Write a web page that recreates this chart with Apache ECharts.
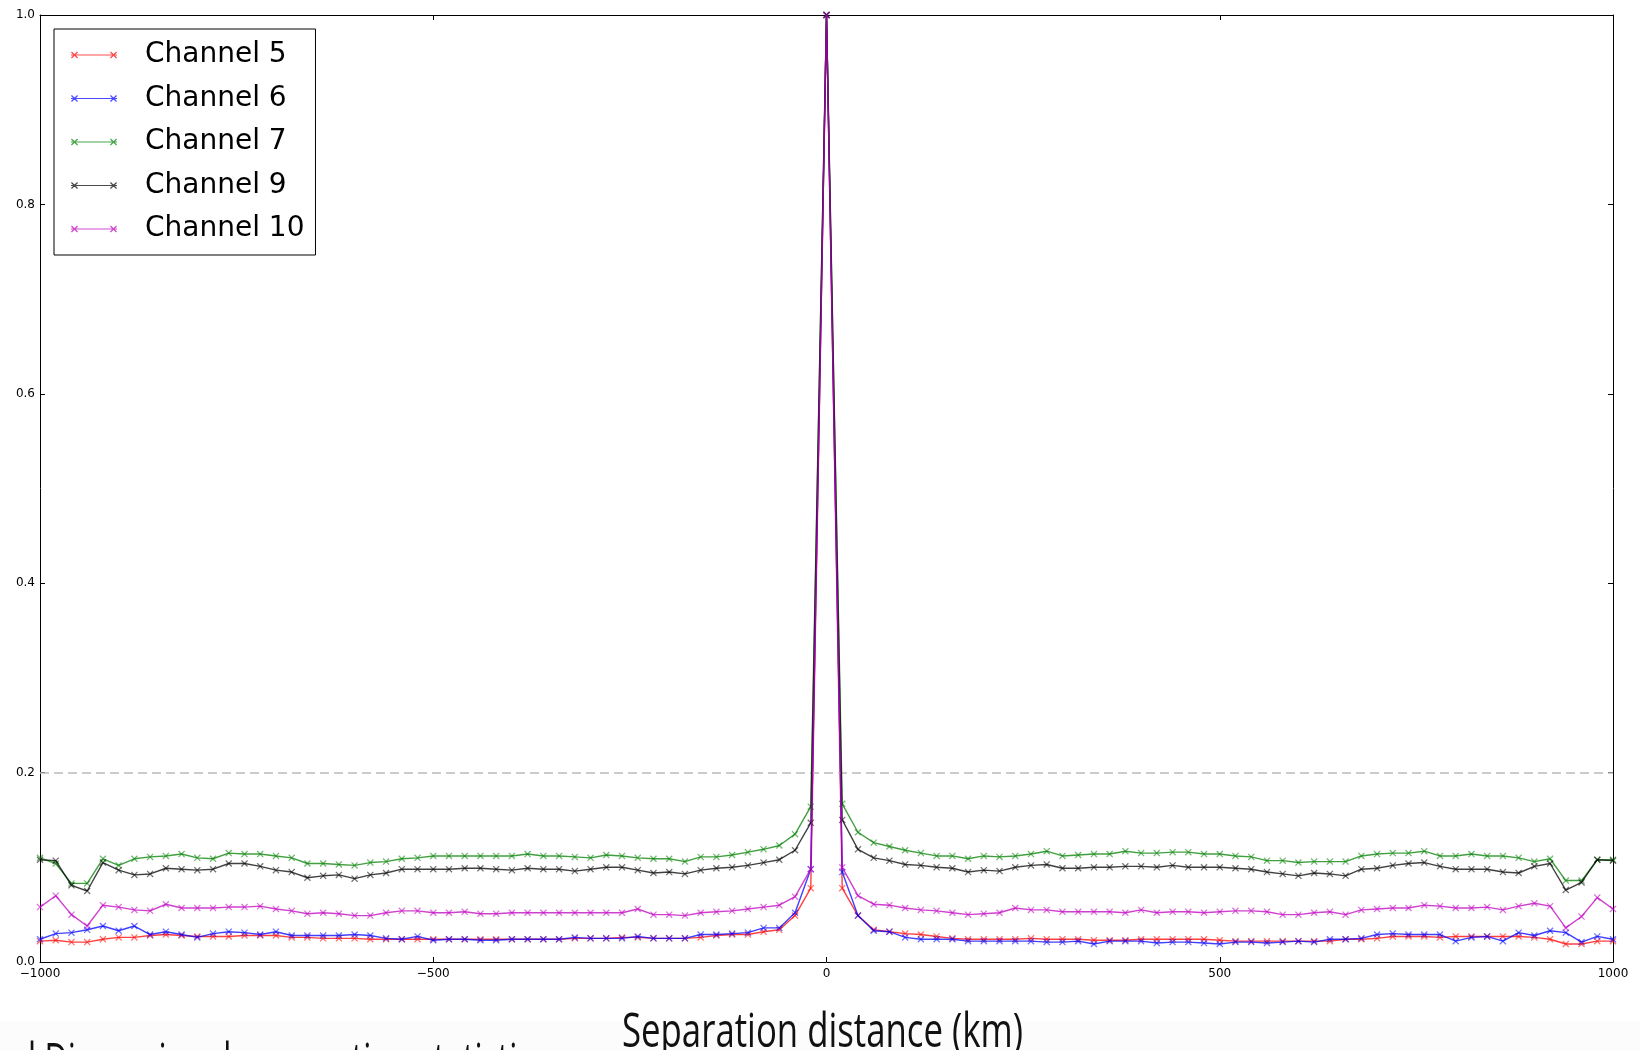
<!DOCTYPE html>
<html><head><meta charset="utf-8">
<script src="https://cdn.jsdelivr.net/npm/echarts@6/dist/echarts.min.js"></script>
<style>html,body{margin:0;padding:0;background:#fff}#c{width:1640px;height:1050px}</style>
</head><body><div id="c"></div>
<script>
// ---- data ----
const distances = [-1000,-980,-960,-940,-920,-900,-880,-860,-840,-820,-800,-780,-760,-740,-720,-700,-680,-660,-640,-620,-600,-580,-560,-540,-520,-500,-480,-460,-440,-420,-400,-380,-360,-340,-320,-300,-280,-260,-240,-220,-200,-180,-160,-140,-120,-100,-80,-60,-40,-20,0,20,40,60,80,100,120,140,160,180,200,220,240,260,280,300,320,340,360,380,400,420,440,460,480,500,520,540,560,580,600,620,640,660,680,700,720,740,760,780,800,820,840,860,880,900,920,940,960,980,1000];

const channel5 = [0.022,0.023,0.021,0.021,0.024,0.026,0.026,0.028,0.029,0.028,0.027,0.027,0.027,0.028,0.028,0.028,0.026,0.026,0.025,0.025,0.025,0.024,0.024,0.024,0.024,0.024,0.024,
0.024,0.024,0.024,0.024,0.024,0.024,0.024,0.025,0.025,0.025,0.026,0.026,0.025,0.025,0.025,0.026,0.028,0.029,0.029,0.032,0.034,0.049,0.078,
1.0,
0.078,0.049,0.034,0.032,0.030,0.029,0.027,0.025,0.024,0.024,0.024,0.024,0.025,0.024,0.024,0.024,0.023,0.023,0.023,0.024,0.024,0.024,0.024,0.024,0.023,
0.022,0.022,0.022,0.022,0.022,0.022,0.022,0.024,0.024,0.025,0.027,0.027,0.027,0.026,0.027,0.027,0.027,0.027,0.027,0.026,0.024,0.019,0.019,0.022,0.022];

const channel6 = [0.024,0.030,0.031,0.034,0.038,0.033,0.038,0.029,0.032,0.029,0.026,0.030,0.032,0.031,0.029,0.032,0.028,0.028,0.028,0.028,0.029,0.028,0.025,0.024,0.027,0.023,0.024,
0.024,0.023,0.023,0.024,0.024,0.024,0.024,0.026,0.025,0.025,0.025,0.027,0.025,0.025,0.025,0.029,0.029,0.030,0.031,0.036,0.036,0.052,0.098,
1.0,
0.095,0.049,0.033,0.032,0.026,0.024,0.024,0.024,0.022,0.022,0.022,0.022,0.022,0.021,0.021,0.022,0.019,0.022,0.022,0.022,0.020,0.021,0.021,0.020,0.019,
0.021,0.021,0.020,0.021,0.022,0.021,0.024,0.024,0.025,0.029,0.030,0.029,0.029,0.029,0.022,0.026,0.027,0.022,0.031,0.028,0.033,0.031,0.021,0.027,0.024];

const channel7 = [0.110,0.104,0.083,0.083,0.109,0.102,0.109,0.111,0.112,0.114,0.110,0.109,0.115,0.114,0.114,0.112,0.110,0.104,0.104,0.103,0.102,0.105,0.106,0.109,0.110,0.112,0.112,
0.112,0.112,0.112,0.112,0.114,0.112,0.112,0.111,0.110,0.113,0.112,0.110,0.109,0.109,0.106,0.111,0.111,0.113,0.116,0.119,0.123,0.135,0.164,
1.0,
0.167,0.137,0.126,0.122,0.118,0.115,0.112,0.112,0.109,0.112,0.111,0.112,0.114,0.117,0.112,0.113,0.114,0.114,0.117,0.115,0.115,0.116,0.116,0.114,0.114,
0.112,0.111,0.107,0.107,0.105,0.106,0.106,0.106,0.112,0.114,0.115,0.115,0.117,0.112,0.112,0.114,0.112,0.112,0.110,0.106,0.109,0.086,0.086,0.108,0.108];

const channel9 = [0.108,0.107,0.081,0.075,0.105,0.097,0.092,0.093,0.099,0.098,0.097,0.098,0.104,0.104,0.101,0.097,0.095,0.089,0.091,0.092,0.088,0.092,0.094,0.098,0.098,0.098,0.098,
0.099,0.099,0.098,0.097,0.099,0.098,0.098,0.096,0.098,0.100,0.100,0.097,0.094,0.095,0.093,0.097,0.099,0.100,0.102,0.105,0.108,0.118,0.147,
1.0,
0.150,0.119,0.110,0.107,0.103,0.102,0.100,0.099,0.095,0.097,0.096,0.100,0.102,0.103,0.099,0.099,0.100,0.100,0.101,0.101,0.100,0.102,0.100,0.100,0.100,
0.099,0.098,0.095,0.093,0.091,0.094,0.093,0.091,0.098,0.099,0.102,0.104,0.105,0.101,0.098,0.098,0.098,0.095,0.094,0.101,0.104,0.076,0.084,0.108,0.107];

const channel10 = [0.058,0.070,0.050,0.038,0.060,0.058,0.055,0.054,0.061,0.057,0.057,0.057,0.058,0.058,0.059,0.056,0.054,0.051,0.052,0.051,0.049,0.049,0.052,0.054,0.054,0.052,0.052,
0.053,0.051,0.051,0.052,0.052,0.052,0.052,0.052,0.052,0.052,0.052,0.056,0.050,0.050,0.049,0.052,0.053,0.054,0.056,0.058,0.060,0.069,0.098,
1.0,
0.100,0.070,0.061,0.060,0.057,0.055,0.054,0.052,0.050,0.051,0.052,0.057,0.055,0.055,0.053,0.053,0.053,0.053,0.052,0.055,0.052,0.053,0.053,0.052,0.053,
0.054,0.054,0.053,0.050,0.050,0.052,0.053,0.050,0.055,0.056,0.057,0.057,0.060,0.059,0.057,0.057,0.058,0.055,0.059,0.062,0.059,0.036,0.048,0.068,0.056];

const seriesNames = ['Channel 5','Channel 6','Channel 7','Channel 9','Channel 10'];
const seriesValues = [channel5, channel6, channel7, channel9, channel10];
const seriesColors = ['#ff0000','#0000ff','#008000','#000000','#bf00bf'];
const referenceLevel = 0.2;
const xAxisTitle = 'Separation distance (km)';
const fragmentText = 'l Dimensional summation statistics';

// ---- chart ----
const chart = echarts.init(document.getElementById('c'), null, {renderer:'canvas'});

const xMarker = 'path://M0,1.3L1.3,0L10,8.7L8.7,10Z M8.7,0L10,1.3L1.3,10L0,8.7Z';
const legendIcon = 'path://M0,0.9L0.9,0L7,6.1L6.1,7Z M6.1,0L7,0.9L0.9,7L0,6.1Z M39,0.9L39.9,0L46,6.1L45.1,7Z M45.1,0L46,0.9L39.9,7L39,6.1Z M0,2.9L46,2.9L46,4.1L0,4.1Z';

function fmtX(v){ return v < 0 ? '\u2212' + Math.abs(v) : String(v); }

const series = seriesNames.map((name, k) => ({
  name: name,
  type: 'line',
  data: distances.map((d, i) => [d, seriesValues[k][i]]),
  symbol: xMarker,
  symbolSize: 7,
  showSymbol: true,
  clip: false,
  z: 3 + k,
  lineStyle: {color: seriesColors[k], width: 1.4, opacity: 0.75},
  itemStyle: {color: seriesColors[k], opacity: 0.55},
  emphasis: {disabled: true},
  markLine: k === 0 ? {
    silent: true, symbol: 'none', label: {show: false},
    lineStyle: {color: '#bbbbbb', type: [9,5], width: 1.5},
    data: [{yAxis: referenceLevel}]
  } : undefined
}));

function measure(text, font){
  const ctx = document.createElement('canvas').getContext('2d');
  ctx.font = font;
  return ctx.measureText(text).width;
}
const capFont = '47px "Open Sans"';
const capScale = 401 / measure(xAxisTitle, capFont);
const fragScale = 520 / measure(fragmentText, capFont);

const option = {
  animation: false,
  backgroundColor: '#ffffff',
  grid: {left: 40, right: 27, top: 15, bottom: 88, containLabel: false},
  xAxis: [{
    type: 'value', min: -1000, max: 1000, interval: 500, position: 'bottom',
    axisLine: {show: true, onZero: false, lineStyle: {color: '#000', width: 1}},
    axisTick: {show: true, inside: true, length: 5, lineStyle: {color: '#000'}},
    axisLabel: {show: true, formatter: fmtX, color: '#000', fontFamily: 'DejaVu Sans', fontSize: 12, margin: 6, showMinLabel: true, showMaxLabel: true},
    splitLine: {show: false}
  },{
    type: 'value', min: -1000, max: 1000, interval: 500, position: 'top',
    axisLine: {show: true, onZero: false, lineStyle: {color: '#000', width: 1}},
    axisTick: {show: true, inside: true, length: 5, lineStyle: {color: '#000'}},
    axisLabel: {show: false}, splitLine: {show: false}
  }],
  yAxis: [{
    type: 'value', min: 0, max: 1, interval: 0.2, position: 'left',
    axisLine: {show: true, onZero: false, lineStyle: {color: '#000', width: 1}},
    axisTick: {show: true, inside: true, length: 5, lineStyle: {color: '#000'}},
    axisLabel: {show: true, formatter: v => v.toFixed(1), color: '#000', fontFamily: 'DejaVu Sans', fontSize: 12, margin: 5},
    splitLine: {show: false}
  },{
    type: 'value', min: 0, max: 1, interval: 0.2, position: 'right',
    axisLine: {show: true, onZero: false, lineStyle: {color: '#000', width: 1}},
    axisTick: {show: true, inside: true, length: 5, lineStyle: {color: '#000'}},
    axisLabel: {show: false}, splitLine: {show: false}
  }],
  legend: {
    show: true, orient: 'vertical', left: 54, top: 29,
    data: seriesNames.map((n, k) => ({name: n, icon: legendIcon, itemStyle: {color: seriesColors[k], opacity: 0.7}})),
    itemWidth: 46, itemHeight: 7, itemGap: 1.5,
    padding: [5, 11, 5, 17],
    borderColor: '#000', borderWidth: 1, borderRadius: 0,
    backgroundColor: '#ffffff',
    selectedMode: false,
    textStyle: {fontFamily: 'DejaVu Sans', fontSize: 28, color: '#000', lineHeight: 30, padding: [12,0,0,23]}
  },
  graphic: [
    {type: 'rect', z: -10, shape: {x: 0, y: 1021, width: 1640, height: 29}, style: {fill: '#fcfcfc'}, silent: true},
    {type: 'text', z: 10, x: 622, y: 1034, scaleX: capScale, style: {text: xAxisTitle, font: capFont, fill: '#111', verticalAlign: 'middle', align: 'left'}, silent: true},
    {type: 'text', z: 10, x: 28, y: 1064, scaleX: fragScale, style: {text: fragmentText, font: capFont, fill: '#111', verticalAlign: 'middle', align: 'left'}, silent: true}
  ],
  series: series
};
chart.setOption(option);
</script>
</body></html>
